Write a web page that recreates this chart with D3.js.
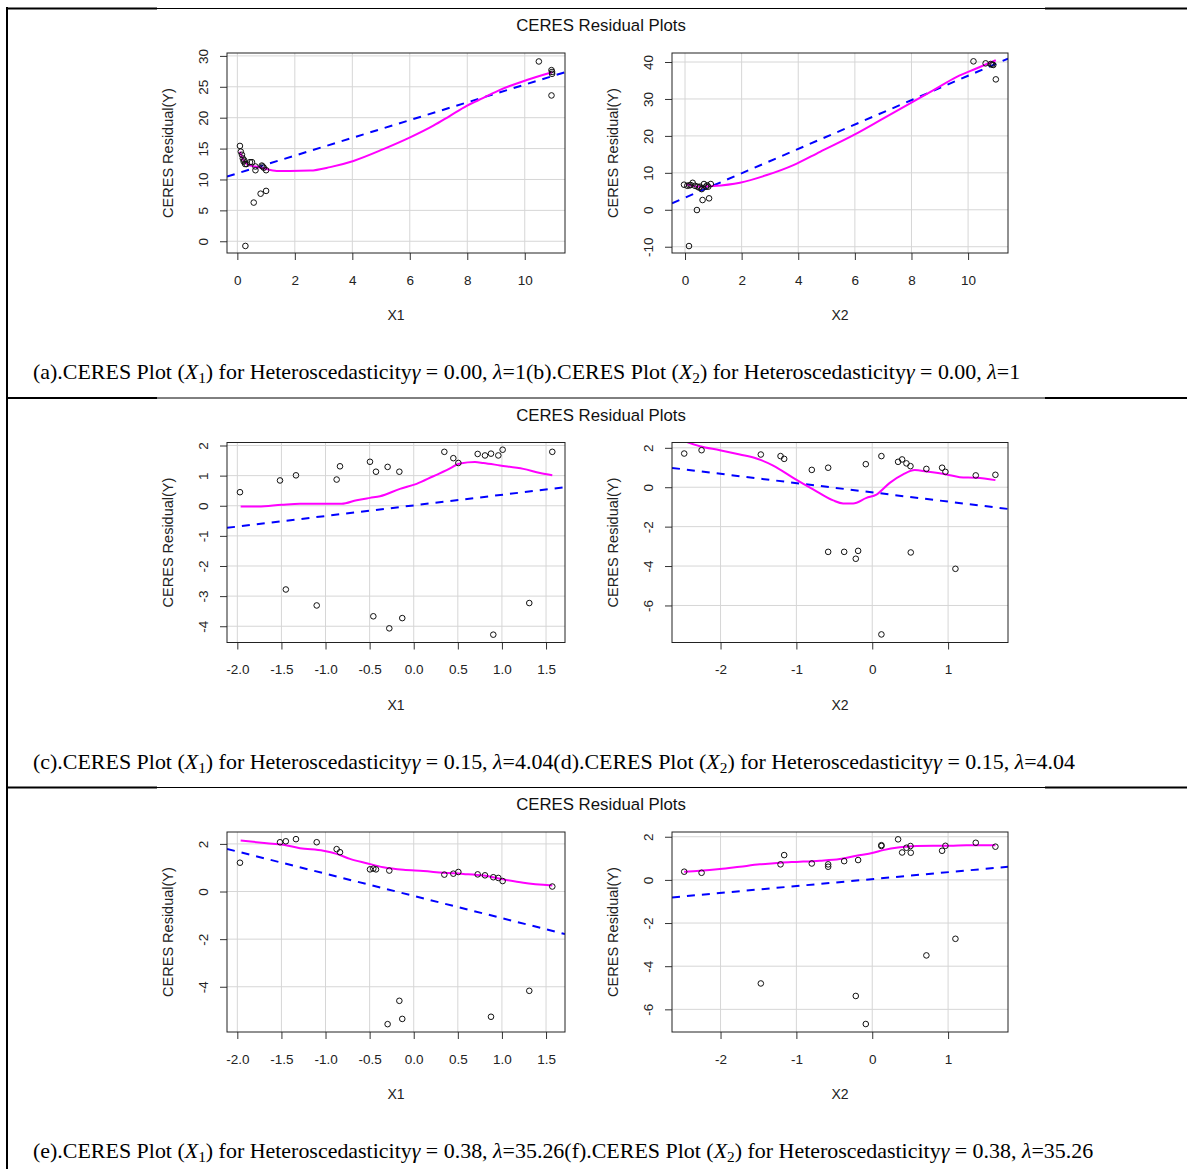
<!DOCTYPE html>
<html>
<head>
<meta charset="utf-8">
<script src="https://cdn.jsdelivr.net/npm/d3@7"></script>
<style>
  body { margin: 0; background: #fff; }
  svg text { font-family: "Liberation Sans", Arial, sans-serif; }
</style>
</head>
<body>
<svg id="chart" width="1187" height="1169"></svg>
<script>
// ---- panel (a): X1, gamma 0.00
const aX = [0.09, 0.12, 0.16, 0.19, 0.22, 0.24, 0.27, 0.32, 0.44, 0.51, 0.63, 0.63, 0.85, 0.88, 0.92, 1.0,
            0.57, 0.81, 1.0, 0.28, 10.49, 10.93, 10.95, 10.95, 10.93];
const aY = [15.43, 14.5, 14.0, 13.4, 12.9, 13.1, 12.5, 12.5, 12.8, 12.8, 12.1, 11.5, 12.25, 12.1, 11.9, 11.5,
            6.26, 7.7, 8.15, -0.76, 29.1, 27.7, 27.4, 27.1, 23.6];
const aSmX = [0.09, 0.21, 0.38, 0.63, 0.9, 1.37, 1.83, 2.53, 3.23, 4.04, 5.08, 6.01, 6.82, 7.4, 7.98, 8.56, 9.14, 10.07, 10.95];
const aSmY = [14.52, 13.17, 12.36, 12.09, 11.82, 11.39, 11.39, 11.44, 12.0, 13.0, 14.9, 16.8, 18.7, 20.3, 21.9, 23.2, 24.5, 26.1, 27.36];
const aFit = [10.99, 1.436];

// ---- panel (b): X2, gamma 0.00
const bX = [-0.035, 0.08, 0.15, 0.2, 0.27, 0.35, 0.44, 0.5, 0.53, 0.59, 0.67, 0.74, 0.78, 0.82, 0.91,
            0.62, 0.85, 0.42, 0.14, 10.19, 10.62, 10.8, 10.85, 10.89, 10.98];
const bY = [6.79, 6.5, 6.6, 6.7, 7.3, 6.5, 6.25, 6.0, 6.25, 5.6, 6.97, 6.25, 6.6, 6.25, 6.97,
            2.64, 3.1, -0.07, -9.82, 40.18, 39.64, 39.46, 39.3, 39.2, 35.3];
const bSmX = [0.035, 0.53, 1.0, 1.94, 2.89, 3.83, 4.77, 5.95, 7.01, 7.95, 8.78, 9.6, 10.31, 10.98];
const bSmY = [6.88, 6.25, 6.43, 7.33, 9.4, 12.1, 15.7, 20.2, 24.75, 28.8, 32.4, 36.0, 38.3, 40.5];
const bFit = [3.28, 3.30];

// ---- panel (c): X1, gamma 0.15
const cX = [-1.97, -1.516, -1.45, -1.335, -1.10, -0.874, -0.836, -0.496, -0.458, -0.428, -0.296, -0.277, -0.163,
            -0.13, 0.347, 0.449, 0.506, 0.725, 0.808, 0.876, 0.902, 0.959, 1.008, 1.31, 1.571];
const cY = [0.45, 0.84, -2.78, 1.01, -3.31, 0.87, 1.31, 1.46, -3.67, 1.13, 1.29, -4.07, 1.13,
            -3.73, 1.79, 1.58, 1.42, 1.72, 1.67, 1.73, -4.28, 1.67, 1.86, -3.23, 1.79];
const cSmX = [-1.962, -1.762, -1.497, -1.29, -0.817, -0.647, -0.496, -0.382, -0.156, 0.033, 0.222, 0.373, 0.525, 0.695, 0.789, 0.978, 1.243, 1.432, 1.571];
const cSmY = [-0.026, -0.026, 0.03, 0.063, 0.063, 0.184, 0.262, 0.317, 0.56, 0.727, 0.98, 1.18, 1.40, 1.45, 1.42, 1.34, 1.225, 1.09, 1.015];
const cFit = [0.012, 0.352];

// ---- panel (d): X2, gamma 0.15
const dX = [-2.479, -2.25, -1.469, -1.209, -1.161, -0.797, -0.581, -0.581, -0.37, -0.217, -0.186, -0.085, 0.121,
            0.121, 0.341, 0.394, 0.451, 0.504, 0.508, 0.714, 0.921, 0.965, 1.097, 1.365, 1.624];
const dY = [1.71, 1.88, 1.66, 1.58, 1.44, 0.88, 0.99, -3.28, -3.28, -3.63, -3.23, 1.17, 1.58,
            -7.47, 1.29, 1.41, 1.21, 1.07, -3.31, 0.93, 0.99, 0.78, -4.14, 0.6, 0.63];
const dSmX = [-2.479, -2.272, -2.009, -1.745, -1.526, -1.306, -1.042, -0.779, -0.515, -0.384, -0.252, -0.076, 0.056, 0.231, 0.407, 0.561, 0.714, 0.978, 1.154, 1.373, 1.624];
const dSmY = [2.34, 2.08, 1.88, 1.66, 1.46, 1.10, 0.48, -0.11, -0.67, -0.82, -0.82, -0.54, -0.37, 0.22, 0.65, 0.87, 0.8, 0.65, 0.51, 0.48, 0.36];
const dFit = [-0.26, -0.47];

// ---- panel (e): X1, gamma 0.38
const eX = [-1.97, -1.516, -1.45, -1.335, -1.10, -0.874, -0.836, -0.496, -0.458, -0.428, -0.296, -0.277, -0.163,
            -0.13, 0.347, 0.449, 0.506, 0.725, 0.808, 0.876, 0.902, 0.959, 1.008, 1.31, 1.571];
const eY = [1.21, 2.07, 2.11, 2.2, 2.07, 1.78, 1.65, 0.93, 0.96, 0.93, -5.57, 0.88, -4.59,
            -5.35, 0.71, 0.75, 0.82, 0.72, 0.68, -5.26, 0.6, 0.57, 0.44, -4.17, 0.21];
const eSmX = [-1.962, -1.667, -1.478, -1.29, -1.025, -0.874, -0.723, -0.534, -0.345, -0.118, 0.109, 0.336, 0.562, 0.789, 1.016, 1.243, 1.571];
const eSmY = [2.14, 2.03, 1.96, 1.82, 1.71, 1.58, 1.37, 1.19, 1.02, 0.91, 0.86, 0.79, 0.74, 0.67, 0.51, 0.37, 0.25];
const eFit = [-0.185, -0.933];

// ---- panel (f): X2, gamma 0.38
const fX = [-2.479, -2.25, -1.469, -1.209, -1.161, -0.797, -0.581, -0.581, -0.37, -0.217, -0.186, -0.085, 0.121,
            0.121, 0.341, 0.394, 0.451, 0.504, 0.508, 0.714, 0.921, 0.965, 1.097, 1.365, 1.624];
const fY = [0.38, 0.33, -4.8, 0.72, 1.15, 0.76, 0.72, 0.61, 0.87, -5.38, 0.92, -6.68, 1.61,
            1.57, 1.88, 1.27, 1.49, 1.57, 1.26, -3.5, 1.35, 1.58, -2.73, 1.72, 1.54];
const fSmX = [-2.479, -2.272, -2.009, -1.745, -1.482, -1.218, -0.955, -0.691, -0.428, -0.208, 0.012, 0.143, 0.363, 0.583, 0.802, 1.022, 1.242, 1.624];
const fSmY = [0.38, 0.42, 0.5, 0.61, 0.72, 0.8, 0.84, 0.89, 0.97, 1.12, 1.26, 1.38, 1.51, 1.57, 1.58, 1.58, 1.61, 1.61];
const fFit = [0.036, 0.321];

// axis limits and ticks
const xLimA = [-0.36, 11.4], yLimA = [-1.9, 30.47];
const xLimB = [-0.46, 11.41], yLimB = [-11.7, 42.44];
const xLimC = [-2.117, 1.715], yLimC = [-4.54, 2.1];
const xLimD = [-2.64, 1.79], yLimD = [-7.88, 2.27];
const xLimE = [-2.117, 1.715], yLimE = [-5.9, 2.5];
const xLimF = [-2.64, 1.79], yLimF = [-7.05, 2.22];

const xTicksTop = [0, 2, 4, 6, 8, 10];
const xLabelsTop = ['0', '2', '4', '6', '8', '10'];
const xTicksX1 = [-2, -1.5, -1, -0.5, 0, 0.5, 1, 1.5];
const xLabelsX1 = ['-2.0', '-1.5', '-1.0', '-0.5', '0.0', '0.5', '1.0', '1.5'];
const xTicksX2 = [-2, -1, 0, 1];
const xLabelsX2 = ['-2', '-1', '0', '1'];

const yTicksA = [0, 5, 10, 15, 20, 25, 30];
const yTicksB = [-10, 0, 10, 20, 30, 40];
const yTicksC = [-4, -3, -2, -1, 0, 1, 2];
const yTicksD = [-6, -4, -2, 0, 2];
const yTicksE = [-4, -2, 0, 2];
const yTicksF = [-6, -4, -2, 0, 2];

const capLetters = [['a', 'b'], ['c', 'd'], ['e', 'f']];
const capGamma = ['0.00', '0.15', '0.38'];
const capLambda = ['1', '4.04', '35.26'];

const panels = [
    {id: 'a', row: 0, col: 0, xs: aX, ys: aY, smX: aSmX, smY: aSmY, fit: aFit, xLim: xLimA, yLim: yLimA,
     xTicks: xTicksTop, xLabels: xLabelsTop, yTicks: yTicksA, xName: 'X1'},
    {id: 'b', row: 0, col: 1, xs: bX, ys: bY, smX: bSmX, smY: bSmY, fit: bFit, xLim: xLimB, yLim: yLimB,
     xTicks: xTicksTop, xLabels: xLabelsTop, yTicks: yTicksB, xName: 'X2'},
    {id: 'c', row: 1, col: 0, xs: cX, ys: cY, smX: cSmX, smY: cSmY, fit: cFit, xLim: xLimC, yLim: yLimC,
     xTicks: xTicksX1, xLabels: xLabelsX1, yTicks: yTicksC, xName: 'X1'},
    {id: 'd', row: 1, col: 1, xs: dX, ys: dY, smX: dSmX, smY: dSmY, fit: dFit, xLim: xLimD, yLim: yLimD,
     xTicks: xTicksX2, xLabels: xLabelsX2, yTicks: yTicksD, xName: 'X2'},
    {id: 'e', row: 2, col: 0, xs: eX, ys: eY, smX: eSmX, smY: eSmY, fit: eFit, xLim: xLimE, yLim: yLimE,
     xTicks: xTicksX1, xLabels: xLabelsX1, yTicks: yTicksE, xName: 'X1'},
    {id: 'f', row: 2, col: 1, xs: fX, ys: fY, smX: fSmX, smY: fSmY, fit: fFit, xLim: xLimF, yLim: yLimF,
     xTicks: xTicksX2, xLabels: xLabelsX2, yTicks: yTicksF, xName: 'X2'}
];

// layout
const rowTop = [8, 397.5, 787];
const cols = [{left: 227, width: 338}, {left: 672, width: 336}];
const boxOffset = 45, boxHeight = 200;

const svg = d3.select('#chart');

// table borders
const frame = svg.append('g');
rowTop.forEach(t => {
    frame.append('line').attr('x1', 6).attr('x2', 1187).attr('y1', t + 0.5).attr('y2', t + 0.5)
        .attr('stroke', '#000').attr('stroke-width', 1);
    frame.append('line').attr('x1', 6).attr('x2', 157).attr('y1', t + 0.5).attr('y2', t + 0.5)
        .attr('stroke', '#000').attr('stroke-width', 2);
    frame.append('line').attr('x1', 1045).attr('x2', 1187).attr('y1', t + 0.5).attr('y2', t + 0.5)
        .attr('stroke', '#000').attr('stroke-width', 2);
});
frame.append('line').attr('x1', 7).attr('x2', 7).attr('y1', 7).attr('y2', 1169)
    .attr('stroke', '#000').attr('stroke-width', 2);

// row titles
rowTop.forEach(t => {
    svg.append('text')
        .attr('x', 601).attr('y', t + 23)
        .attr('text-anchor', 'middle')
        .attr('font-size', '16.8px')
        .attr('fill', '#111')
        .text('CERES Residual Plots');
});

function drawPanel(p) {
    const {left, width} = cols[p.col];
    const top = rowTop[p.row] + boxOffset;
    const height = boxHeight;

    const x = d3.scaleLinear().domain(p.xLim).range([0, width]);
    const y = d3.scaleLinear().domain(p.yLim).range([height, 0]);

    const g = svg.append('g').attr('transform', `translate(${left}, ${top})`);

    svg.append('clipPath').attr('id', 'clip-' + p.id)
        .append('rect').attr('width', width).attr('height', height);

    // grid
    g.append('g').selectAll('line').data(p.xTicks).join('line')
        .attr('x1', d => x(d)).attr('x2', d => x(d))
        .attr('y1', 0).attr('y2', height)
        .attr('stroke', '#d6d6d6').attr('stroke-width', 1);
    g.append('g').selectAll('line').data(p.yTicks).join('line')
        .attr('x1', 0).attr('x2', width)
        .attr('y1', d => y(d)).attr('y2', d => y(d))
        .attr('stroke', '#d6d6d6').attr('stroke-width', 1);

    // x axis
    const xAxis = g.append('g')
        .attr('transform', `translate(0, ${height})`)
        .call(d3.axisBottom(x).tickValues(p.xTicks)
            .tickFormat((d, i) => p.xLabels[i]).tickSize(7).tickPadding(15));
    xAxis.select('.domain').remove();
    xAxis.selectAll('line').attr('stroke', '#333');
    xAxis.selectAll('text').attr('font-size', '13.5px').attr('fill', '#222')
        .attr('font-family', '"Liberation Sans", Arial, sans-serif');

    // y axis, rotated labels as R draws them
    const yAxis = g.append('g')
        .call(d3.axisLeft(y).tickValues(p.yTicks).tickFormat(d => String(d)).tickSize(7));
    yAxis.select('.domain').remove();
    yAxis.selectAll('line').attr('stroke', '#333');
    yAxis.selectAll('text')
        .attr('x', 0).attr('dy', '0.35em')
        .attr('text-anchor', 'middle')
        .attr('transform', 'translate(-24, 0) rotate(-90)')
        .attr('font-size', '13.5px').attr('fill', '#222')
        .attr('font-family', '"Liberation Sans", Arial, sans-serif');

    // axis titles
    g.append('text')
        .attr('x', width / 2).attr('y', height + 67)
        .attr('text-anchor', 'middle')
        .attr('font-size', '14px').attr('fill', '#222')
        .text(p.xName);
    g.append('text')
        .attr('transform', `translate(-59, ${height / 2}) rotate(-90)`)
        .attr('dy', '0.35em')
        .attr('text-anchor', 'middle')
        .attr('font-size', '14.5px').attr('fill', '#222')
        .text('CERES Residual(Y)');

    const plot = g.append('g').attr('clip-path', `url(#clip-${p.id})`);

    // least squares line across the plot region
    plot.append('line')
        .attr('x1', x(p.xLim[0])).attr('y1', y(p.fit[0] + p.fit[1] * p.xLim[0]))
        .attr('x2', x(p.xLim[1])).attr('y2', y(p.fit[0] + p.fit[1] * p.xLim[1]))
        .attr('stroke', '#0000ff').attr('stroke-width', 2)
        .attr('stroke-dasharray', '8,7');

    // smoother
    const sm = p.smX.map((v, i) => [v, p.smY[i]]);
    plot.append('path')
        .datum(sm)
        .attr('d', d3.line().x(d => x(d[0])).y(d => y(d[1])).curve(d3.curveMonotoneX))
        .attr('fill', 'none')
        .attr('stroke', '#ff00ff').attr('stroke-width', 2);

    // points
    const pts = p.xs.map((v, i) => [v, p.ys[i]]);
    g.append('g').selectAll('circle').data(pts).join('circle')
        .attr('cx', d => x(d[0])).attr('cy', d => y(d[1]))
        .attr('r', 2.8)
        .attr('fill', 'none').attr('stroke', '#111').attr('stroke-width', 1);

    // box
    g.append('rect')
        .attr('width', width).attr('height', height)
        .attr('fill', 'none').attr('stroke', '#222').attr('stroke-width', 1);
}

panels.forEach(drawPanel);

// captions
function addHalf(t, letter, num, gamma, lambda) {
    t.append('tspan').text(`(${letter}).CERES Plot (`);
    t.append('tspan').attr('font-style', 'italic').text('X');
    t.append('tspan').attr('font-size', '70%').attr('dy', 4).text(num);
    t.append('tspan').attr('dy', -4).text(') for Heteroscedasticity');
    t.append('tspan').attr('font-style', 'italic').text('γ');
    t.append('tspan').text(` = ${gamma}, `);
    t.append('tspan').attr('font-style', 'italic').text('λ');
    t.append('tspan').text(`=${lambda}`);
}

const capTexts = rowTop.map((t, r) => {
    const txt = svg.append('text')
        .attr('x', 33).attr('y', t + 371)
        .attr('font-size', '20px')
        .attr('fill', '#000')
        .style('font-family', '"Liberation Serif", "Times New Roman", serif');
    addHalf(txt, capLetters[r][0], '1', capGamma[r], capLambda[r]);
    addHalf(txt, capLetters[r][1], '2', capGamma[r], capLambda[r]);
    return txt;
});

// fit the first caption to its width in the page and use the same size for all
const w0 = capTexts[0].node().getComputedTextLength();
const fs = 20 * 988 / w0;
capTexts.forEach(t => t.attr('font-size', fs + 'px'));
</script>
</body>
</html>
